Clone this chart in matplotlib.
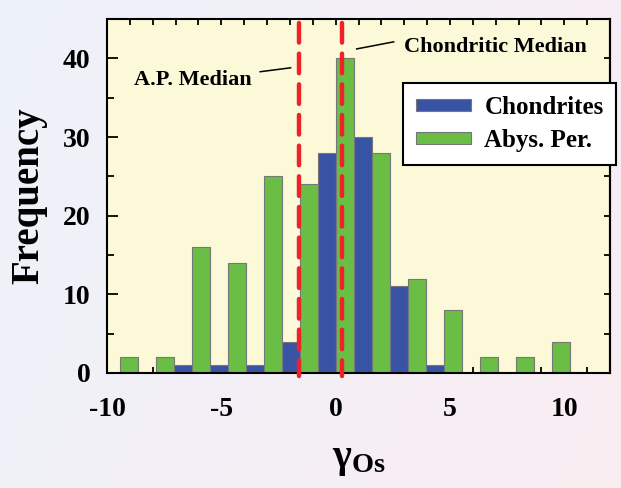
import numpy as np
import matplotlib
matplotlib.use("Agg")
import matplotlib.pyplot as plt
from matplotlib.patches import Patch

# histogram bins (left edge of each bin) and counts
bin_left = [-10.22, -8.65, -7.07, -5.50, -3.92, -2.35, -0.77, 0.81, 2.38, 3.96, 5.53, 7.11, 8.68]
chondrites = [0, 0, 1, 1, 1, 4, 28, 30, 11, 1, 0, 0, 0]
abys_per = [2, 2, 16, 14, 25, 24, 40, 28, 12, 8, 2, 2, 4]
bar_width = 0.787

ap_median = -1.6
chondritic_median = 0.3

BLUE = "#3953a4"
GREEN = "#6abd45"
RED = "#ee2328"

plt.rcParams["font.family"] = ["Liberation Serif", "DejaVu Serif"]
plt.rcParams["font.weight"] = "bold"
plt.rcParams["axes.unicode_minus"] = False
plt.rcParams["mathtext.fontset"] = "custom"
plt.rcParams["mathtext.rm"] = "Liberation Serif:bold"
plt.rcParams["mathtext.it"] = "Liberation Serif:bold"
plt.rcParams["mathtext.bf"] = "Liberation Serif:bold"

fig = plt.figure(figsize=(6.21, 4.88), dpi=100)

# soft blue -> pink page background
bg = fig.add_axes([0, 0, 1, 1], zorder=-10)
gx, gy = np.meshgrid(np.linspace(0, 1, 200), np.linspace(0, 1, 200))
t = np.clip(0.75 * gx + 0.25 * gy, 0, 1)[..., None]
c0 = np.array([0.93, 0.95, 0.98])
c1 = np.array([0.98, 0.93, 0.95])
bg.imshow(c0 * (1 - t) + c1 * t, aspect="auto", extent=[0, 1, 0, 1])
bg.axis("off")

ax = fig.add_axes([0.1723, 0.2357, 0.8100, 0.7253])
ax.set_facecolor("#fcf9d9")
ax.set_axisbelow(True)

x_blue = np.array(bin_left)
x_green = x_blue + bar_width
for x, h in zip(x_blue, chondrites):
    if h:
        ax.bar(x, h, width=bar_width, align="edge", color=BLUE, edgecolor="#777777", linewidth=0.8)
for x, h in zip(x_green, abys_per):
    if h:
        ax.bar(x, h, width=bar_width, align="edge", color=GREEN, edgecolor="#777777", linewidth=0.8)

for m in (ap_median, chondritic_median):
    ax.plot([m, m], [44.5, -0.4], color=RED, lw=3.2, dashes=(4.4, 2.5),
            dash_capstyle="round", clip_on=False, zorder=4)

ax.set_xlim(-10, 12)
ax.set_ylim(0, 45)

ax.set_xticks([-10, -5, 0, 5, 10])
ax.set_xticks(np.arange(-10, 13, 1), minor=True)
ax.set_yticks([0, 10, 20, 30, 40])
ax.set_yticks([5, 15, 25, 35, 45], minor=True)
ax.tick_params(axis="x", which="both", direction="in", length=4.5, width=1.3,
               top=True, labelsize=20, pad=17)
ax.tick_params(axis="y", which="major", direction="in", length=8, width=1.3,
               labelsize=20, pad=12)
ax.tick_params(axis="y", which="minor", direction="in", length=5, width=1.3)
for lab in ax.get_xticklabels() + ax.get_yticklabels():
    lab.set_fontweight("bold")

# right-hand ticks are shorter than the left ones
ry = ax.secondary_yaxis("right")
ry.set_yticks([0, 10, 20, 30, 40])
ry.set_yticks([5, 15, 25, 35, 45], minor=True)
ry.tick_params(which="both", direction="in", length=4.5, width=1.3, labelright=False)
ry.spines["right"].set_linewidth(1.5)

for s in ax.spines.values():
    s.set_linewidth(1.5)

ax.set_ylabel("Frequency", fontsize=28, fontweight="bold", labelpad=11)
ax.set_xlabel(r"$\mathrm{\gamma}_{\mathrm{Os}}$", fontsize=29, labelpad=14)

# median labels with leader lines
ax.text(-8.8, 37.2, "A.P. Median", fontsize=16, fontweight="bold", va="center", ha="left")
ax.plot([-3.3, -1.97], [38.3, 38.8], color="black", lw=1.1)
ax.text(3.0, 41.4, "Chondritic Median", fontsize=16, fontweight="bold", va="center", ha="left")
ax.plot([0.92, 2.54], [41.2, 42.1], color="black", lw=1.1)

handles = [Patch(facecolor=BLUE, edgecolor="#777777", linewidth=0.8),
           Patch(facecolor=GREEN, edgecolor="#777777", linewidth=0.8)]
leg = ax.legend(handles, ["Chondrites", "Abys. Per."], loc="upper left",
                bbox_to_anchor=(403 / 621, 1 - 83 / 488), bbox_transform=fig.transFigure,
                borderaxespad=0, fontsize=18, handlelength=2.2, handleheight=0.36,
                handletextpad=0.55, labelspacing=0.42, borderpad=0.5,
                fancybox=False, framealpha=1, edgecolor="black")
leg.get_frame().set_linewidth(1.5)
leg.set_zorder(5)
for txt in leg.get_texts():
    txt.set_fontweight("bold")

fig.savefig("out.png", dpi=100)
